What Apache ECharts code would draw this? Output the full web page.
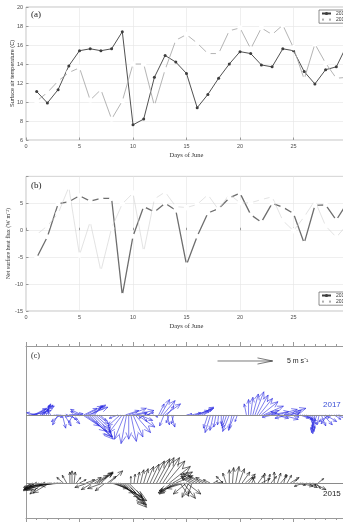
<!DOCTYPE html>
<html>
<head>
<meta charset="utf-8">
<script src="https://cdn.jsdelivr.net/npm/echarts@6/dist/echarts.min.js"></script>
<style>
  html, body { margin: 0; padding: 0; background: #fff; }
  #main { width: 343px; height: 527px; }
</style>
</head>
<body>
<div id="main"></div>
<script>
// days of June
var days = [1, 2, 3, 4, 5, 6, 7, 8, 9, 10, 11, 12, 13, 14, 15, 16, 17, 18, 19, 20, 21, 22, 23, 24, 25, 26, 27, 28, 29, 30];

// (a) surface air temperature (C)
var temp2015 = [11.1, 9.9, 11.3, 13.8, 15.4, 15.6, 15.4, 15.6, 17.4, 7.6, 8.2, 12.6, 14.9, 14.2, 13.0, 9.4, 10.8, 12.5, 14.0, 15.3, 15.1, 13.9, 13.7, 15.6, 15.4, 13.2, 11.9, 13.4, 13.7, 16.0];
var temp2017 = [10.1, 11.0, 12.2, 13.1, 13.6, 10.2, 11.3, 8.2, 10.1, 14.0, 14.0, 9.6, 13.4, 16.5, 17.1, 16.2, 15.1, 15.1, 17.5, 17.8, 15.6, 17.8, 17.1, 18.1, 15.7, 12.4, 16.1, 14.1, 12.5, 12.6];

// (b) net surface heat flux (W m-2)
var flux2015 = [-5.1, -1.2, 4.9, 5.3, 6.4, 5.4, 5.9, 5.9, -12.1, -1.1, 4.4, 3.4, 5.0, 3.7, -6.4, -1.1, 3.2, 4.0, 6.0, 6.9, 2.9, 1.5, 5.0, 4.3, 3.1, -2.4, 4.6, 4.7, 1.9, 5.0];
var flux2017 = [-0.8, 0.8, 3.1, 8.0, -4.6, 1.6, -7.6, 0.4, 4.9, 6.9, -4.0, 5.8, 7.1, 4.4, 4.2, 4.8, 6.6, 3.8, 6.7, 5.1, 5.1, 5.7, 6.2, 1.8, -0.1, 2.5, 5.5, 0.8, -1.3, 1.0];

// (c) wind vectors: [day, u (m/s), v (m/s)]
var wind2017 = [
  [0.3, 1.5, 0.2], [0.5, 1.8, 0.4], [0.7, 1.2, 0.6], [0.9, 0.9, 0.5], [1.1, -1.0, 0.2], [1.3, 1.3, 0.8],
  [1.5, 1.0, 0.9], [1.7, 0.6, 1.0], [1.9, 0.3, 0.9], [2.1, 0.0, 0.8], [2.3, -0.3, 0.5],
  [2.6, 0.8, -0.2], [2.8, 1.2, -0.1], [3.0, -0.5, -0.9], [3.2, -0.8, -0.6], [3.4, 0.3, -1.2], [3.6, 0.6, -1.0],
  [3.8, 1.0, -0.4], [4.0, 1.3, 0.1], [4.2, 0.8, -0.8], [4.4, -0.4, -0.7],
  [5.0, -0.8, 0.3], [5.2, -1.0, 0.5], [5.4, 1.2, 0.6], [5.6, 1.5, 0.8], [5.8, 1.8, 0.7], [6.0, 1.4, 0.9],
  [6.2, 1.0, 0.8], [6.4, 0.6, 0.7],
  [5.3, 1.5, -1.0], [5.5, 2.0, -1.5], [5.7, 2.3, -2.0], [5.9, 2.2, -2.2], [6.1, 1.9, -2.0], [6.3, 1.6, -1.6],
  [6.5, 1.3, -1.2], [6.7, 1.0, -0.8], [6.9, 0.6, -0.5],
  [8.6, -0.8, -0.3], [8.8, -1.1, -1.0], [9.0, -1.2, -1.6], [9.2, -0.9, -2.2], [9.4, -0.5, -2.6], [9.6, 0.0, -2.2],
  [9.8, 0.5, -2.4], [10.0, 0.9, -2.0], [10.2, 1.4, -1.6], [10.4, 1.6, -1.1], [10.6, 1.2, -0.5],
  [9.3, 1.2, 0.4], [9.6, 1.6, 0.6], [9.9, 2.0, 0.4], [10.3, 1.0, 0.2], [10.8, 0.5, -0.6], [11.0, -0.4, -0.3],
  [11.3, 0.6, 0.2], [11.6, -0.5, 0.1], [11.9, 0.4, -0.2],
  [12.4, 0.5, 1.0], [12.6, 0.8, 1.4], [12.8, 1.1, 1.3], [13.0, 1.4, 1.0], [13.2, 0.6, 0.8],
  [12.9, -0.4, -1.0], [13.2, 0.2, -0.9], [13.4, -0.3, -0.7], [13.6, 0.3, -1.1], [13.8, -0.2, -0.8],
  [15.0, 0.5, 0.1], [15.5, 0.8, 0.2], [15.8, 1.2, 0.4], [16.0, 1.5, 0.6], [16.2, 1.3, 0.7], [16.4, 0.9, 0.5], [16.6, 0.5, 0.3],
  [17.0, -0.4, -1.2], [17.25, -0.5, -1.6], [17.5, -0.3, -1.4], [17.75, -0.2, -1.1], [18.0, -0.1, -0.9],
  [18.25, 0.0, -0.8], [18.5, -0.2, -1.0], [18.75, -0.4, -1.2], [19.0, -0.6, -1.5], [19.25, -0.3, -1.4],
  [19.5, -0.5, -1.2], [19.75, -0.2, -0.6],
  [20.6, -0.2, 1.0], [20.8, 0.0, 1.4], [21.0, 0.2, 1.6], [21.2, 0.5, 1.9], [21.4, 0.8, 2.1], [21.6, 1.0, 1.8],
  [21.8, 1.2, 1.5], [22.0, 1.5, 1.2], [22.2, 1.8, 0.8], [22.4, 1.2, 0.4], [22.6, 0.8, 0.2],
  [22.9, 1.6, 0.3], [23.1, -1.0, -0.2], [23.3, 1.2, -0.3], [23.5, 1.8, 0.5], [23.7, -0.8, 0.3], [23.9, 1.5, -0.4],
  [24.1, 2.0, 0.6], [24.3, 1.3, 0.2], [24.5, -1.2, -0.3], [24.7, 1.0, 0.4], [24.9, 0.6, -0.2], [25.1, 0.4, 0.1],
  [25.6, 0.8, -0.3], [25.8, 1.0, -0.4], [26.0, 1.1, -0.5], [26.2, 0.9, -0.8], [26.4, 0.6, -1.2], [26.6, 0.3, -1.5],
  [26.8, 0.0, -1.7], [27.0, -0.3, -1.6], [27.2, -0.5, -1.3], [27.4, -0.2, -0.9], [27.6, 0.4, -1.0], [27.8, 0.8, -0.9],
  [28.0, 1.0, -0.6], [28.2, -0.6, -0.8], [28.4, -1.0, -0.6], [28.6, -0.4, -0.3], [28.8, 0.6, -0.4], [29.0, 1.2, -0.5],
  [29.2, 0.8, -0.2]
];
var wind2015 = [
  [0.6, -0.8, -0.4], [0.9, -1.1, -0.6], [1.2, -1.4, -0.7], [1.5, -1.6, -0.6], [1.8, -1.9, -0.5], [2.1, -2.1, -0.6],
  [2.4, -2.3, -0.4], [2.7, -2.5, -0.5], [3.0, -2.6, -0.3], [3.3, -2.0, -0.2], [2.2, -1.5, -0.9], [1.6, -1.2, -1.0],
  [3.5, -0.6, 0.5], [3.8, -0.4, 0.7], [4.1, 0.0, 1.0], [4.3, 0.0, 1.1], [4.5, 0.1, 1.0], [4.7, 0.4, 0.5], [5.0, 0.6, 0.3],
  [5.6, 0.8, 0.3], [5.8, -1.2, -0.4], [6.0, 1.0, 0.5], [6.2, -1.0, -0.6], [6.4, 1.2, 0.7], [6.6, 1.5, 0.9],
  [6.8, 1.3, 1.0], [7.0, 1.0, 0.9], [7.2, -1.4, -0.5], [7.4, -0.9, -0.7], [7.6, 0.8, 0.6], [7.8, 1.2, 1.1],
  [8.0, 1.5, -0.5], [8.2, 2.0, -0.9], [8.4, 2.4, -1.3], [8.6, 2.6, -1.6], [8.8, 2.4, -2.0], [9.0, 2.2, -2.2],
  [9.2, 1.8, -1.9], [9.4, 1.5, -1.6], [9.6, 1.2, -1.2],
  [9.8, 0.0, 0.6], [10.1, 0.1, 0.8], [10.4, 0.2, 1.0], [10.7, 0.3, 1.2], [11.0, 0.4, 1.3], [11.3, 0.6, 1.5],
  [11.6, 0.8, 1.7], [11.9, 1.0, 2.0], [12.2, 1.2, 2.2], [12.5, 1.3, 2.3], [12.8, 1.5, 2.3], [13.1, 1.7, 2.0],
  [13.4, 1.9, 1.5], [13.7, 1.8, 1.0], [14.0, 1.5, 0.6],
  [13.6, -1.0, -0.8], [13.9, -1.4, -1.0], [14.2, -1.8, -0.9], [14.5, -2.0, -0.7], [14.8, -1.6, -0.5], [15.0, -1.2, -1.0],
  [14.4, 0.8, -1.2], [14.7, 1.1, -1.4], [15.0, 1.3, -1.0], [15.2, -0.6, -1.3], [15.5, -0.3, -1.0],
  [15.4, -0.8, 0.4], [15.7, -1.2, 0.6], [16.0, -1.5, 0.8], [16.3, -1.6, 0.9], [16.6, -1.4, 0.7], [16.9, -1.0, 0.5],
  [17.2, -0.6, 0.3], [17.5, 0.4, 0.2], [17.8, 0.6, 0.1],
  [18.4, -0.6, 0.6], [18.7, -0.3, 0.9], [19.0, 0.0, 1.2], [19.3, 0.1, 1.4], [19.6, 0.3, 1.5], [19.9, 0.5, 1.3],
  [20.2, 0.7, 1.0], [20.5, 0.9, 0.8], [20.8, 0.4, 0.5],
  [21.1, 0.3, 0.6], [21.4, -0.2, 0.5], [21.7, 0.5, 0.7], [22.0, 0.8, 0.4], [22.3, 0.0, 0.9], [22.6, 0.2, 0.8],
  [22.9, 0.5, 0.6], [23.2, 0.0, 1.0], [23.5, 0.3, 0.9], [23.8, 0.6, 0.7], [24.1, 0.2, 0.8], [24.4, 0.4, 0.7],
  [24.7, 0.8, 0.5], [25.0, 0.3, 0.3],
  [25.3, 0.8, -0.2], [25.6, 1.2, -0.3], [25.9, -0.8, -0.3], [26.2, 1.0, -0.4], [26.5, 0.6, -0.2], [26.8, 1.2, -0.6],
  [27.1, 0.4, -0.5], [27.3, 0.5, 0.4]
];
// reference arrow: 5 m/s eastward
var refArrow = [[17.9, 5, 0]];

var SANS = "'Liberation Sans', Arial, sans-serif";
var SERIF = "'Liberation Serif', 'Times New Roman', serif";
var K = 1.03;          // x-units per m/s in panel (c)
var BASE17 = 9.63, BASE15 = 3.27, BASEREF = 14.67;

function pairs(vals) {
  return days.map(function (d, i) { return [d, vals[i]]; });
}

function quiver(base, color, headRatio, headAng) {
  return function (params, api) {
    var t = api.value(0), u = api.value(1), v = api.value(2);
    var p0 = api.coord([t, base]);
    var p1 = api.coord([t + u * K, base + v * K]);
    var dx = p1[0] - p0[0], dy = p1[1] - p0[1];
    var len = Math.sqrt(dx * dx + dy * dy);
    var ang = Math.atan2(dy, dx);
    var h = len * headRatio;
    var h1 = [p1[0] - h * Math.cos(ang - headAng), p1[1] - h * Math.sin(ang - headAng)];
    var h2 = [p1[0] - h * Math.cos(ang + headAng), p1[1] - h * Math.sin(ang + headAng)];
    return {
      type: 'group',
      children: [
        { type: 'line', shape: { x1: p0[0], y1: p0[1], x2: p1[0], y2: p1[1] }, style: { stroke: color, lineWidth: 0.6 } },
        { type: 'polyline', shape: { points: [h1, p1, h2] }, style: { stroke: color, fill: null, lineWidth: 0.6 } }
      ]
    };
  };
}

function baseLine(y) {
  return {
    silent: true, symbol: 'none', animation: false,
    label: { show: false },
    lineStyle: { color: '#8a8a8a', width: 1, type: 'solid' },
    data: [{ yAxis: y }]
  };
}

var tickLabel = { fontSize: 5.5, color: '#4d4d4d', fontFamily: SANS };
var splitGrey = { show: true, lineStyle: { color: '#e4e4e4', width: 0.6 } };

var chart = echarts.init(document.getElementById('main'));
chart.setOption({
  animation: false,
  backgroundColor: '#fff',
  grid: [
    { left: 26, top: 7, width: 321, height: 133, show: true, borderColor: '#b5b5b5', borderWidth: 0.8, outerBoundsMode: 'none', containLabel: false },
    { left: 26, top: 176.4, width: 321, height: 134.6, show: true, borderColor: '#b5b5b5', borderWidth: 0.8, outerBoundsMode: 'none', containLabel: false },
    { left: 26, top: 346, width: 321, height: 172, show: false, outerBoundsMode: 'none', containLabel: false }
  ],
  legend: [
    {
      left: 319, top: 10, orient: 'vertical', itemWidth: 9, itemHeight: 4, itemGap: 1,
      padding: [1, 3, 1, 2], borderColor: '#444', borderWidth: 0.6, backgroundColor: '#fff',
      textStyle: { fontSize: 5, color: '#333', fontFamily: SANS },
      data: ['2015', '2017']
    },
    {
      left: 319, top: 292, orient: 'vertical', itemWidth: 9, itemHeight: 4, itemGap: 1,
      padding: [1, 3, 1, 2], borderColor: '#444', borderWidth: 0.6, backgroundColor: '#fff',
      textStyle: { fontSize: 5, color: '#333', fontFamily: SANS },
      data: ['2015', '2017']
    }
  ],
  xAxis: [
    {
      gridIndex: 0, type: 'value', min: 0, max: 30, interval: 5,
      axisLine: { show: false }, axisTick: { inside: true, length: 2.5, lineStyle: { color: '#999' } },
      axisLabel: Object.assign({ margin: 3 }, tickLabel), splitLine: splitGrey,
      name: 'Days of June', nameLocation: 'middle', nameGap: 12, nameMoveOverlap: false,
      nameTextStyle: { fontSize: 6.5, color: '#333', fontFamily: SERIF }
    },
    {
      gridIndex: 1, type: 'value', min: 0, max: 30, interval: 5,
      axisLine: { show: false }, axisTick: { inside: true, length: 2.5, lineStyle: { color: '#999' } },
      axisLabel: Object.assign({ margin: 3 }, tickLabel), splitLine: splitGrey,
      name: 'Days of June', nameLocation: 'middle', nameGap: 12, nameMoveOverlap: false,
      nameTextStyle: { fontSize: 6.5, color: '#333', fontFamily: SERIF }
    },
    {
      gridIndex: 2, type: 'value', min: 0, max: 30, interval: 5, position: 'bottom',
      axisLine: { show: true, lineStyle: { color: '#9a9a9a', width: 1 } },
      axisTick: { show: true, length: 4, lineStyle: { color: '#9a9a9a' } },
      minorTick: { show: true, splitNumber: 5, length: 2, lineStyle: { color: '#9a9a9a' } },
      axisLabel: { show: false }, splitLine: { show: false }
    },
    {
      gridIndex: 2, type: 'value', min: 0, max: 30, interval: 5, position: 'top',
      axisLine: { show: true, lineStyle: { color: '#9a9a9a', width: 1 } },
      axisTick: { show: true, length: 4, lineStyle: { color: '#9a9a9a' } },
      minorTick: { show: true, splitNumber: 5, length: 2, lineStyle: { color: '#9a9a9a' } },
      axisLabel: { show: false }, splitLine: { show: false }
    }
  ],
  yAxis: [
    {
      gridIndex: 0, type: 'value', min: 6, max: 20, interval: 2,
      axisLine: { show: false }, axisTick: { inside: true, length: 2.5, lineStyle: { color: '#999' } },
      axisLabel: Object.assign({ margin: 3 }, tickLabel), splitLine: splitGrey,
      name: 'Surface air temperature (C)', nameLocation: 'middle', nameGap: 11, nameRotate: 90, nameMoveOverlap: false,
      nameTextStyle: { fontSize: 5.5, color: '#333', fontFamily: SANS }
    },
    {
      gridIndex: 1, type: 'value', min: -15, max: 10, interval: 5,
      axisLine: { show: false }, axisTick: { inside: true, length: 2.5, lineStyle: { color: '#999' } },
      axisLabel: Object.assign({ margin: 3, formatter: function (v) { return v === 10 ? '' : v; } }, tickLabel),
      splitLine: splitGrey,
      name: 'Net surface heat flux (W m\u207B\u00B2)', nameLocation: 'middle', nameGap: 15, nameRotate: 90, nameMoveOverlap: false,
      nameTextStyle: { fontSize: 6, color: '#333', fontFamily: SERIF }
    },
    {
      gridIndex: 2, type: 'value', min: 0, max: 16.07,
      axisLine: { show: true, lineStyle: { color: '#9a9a9a', width: 1 } },
      axisTick: { show: false }, axisLabel: { show: false }, splitLine: { show: false }
    }
  ],
  series: [
    {
      name: '2015', type: 'line', xAxisIndex: 0, yAxisIndex: 0, data: pairs(temp2015),
      symbol: 'circle', symbolSize: 3, lineStyle: { color: '#3d3d3d', width: 0.9 },
      itemStyle: { color: '#3d3d3d' }
    },
    {
      name: '2017', type: 'line', xAxisIndex: 0, yAxisIndex: 0, data: pairs(temp2017),
      symbol: 'emptyCircle', symbolSize: 3.5, lineStyle: { color: '#ababab', width: 0.9 },
      itemStyle: { color: '#fff', borderColor: '#8e8e8e', borderWidth: 0.7 }
    },
    {
      name: '2015', type: 'line', xAxisIndex: 1, yAxisIndex: 1, data: pairs(flux2015),
      symbol: 'emptyCircle', symbolSize: 3, lineStyle: { color: '#6e6e6e', width: 1.3 },
      itemStyle: { color: '#fff', borderColor: '#666', borderWidth: 0.7 }
    },
    {
      name: '2017', type: 'line', xAxisIndex: 1, yAxisIndex: 1, data: pairs(flux2017),
      symbol: 'emptyCircle', symbolSize: 3.5, lineStyle: { color: '#d0d0d0', width: 0.6 },
      itemStyle: { color: '#fff', borderColor: '#6a6a6a', borderWidth: 0.7 }
    },
    {
      name: 'wind2017', type: 'custom', xAxisIndex: 2, yAxisIndex: 2, data: wind2017,
      renderItem: quiver(BASE17, '#2a2ae0', 0.3, 0.4), clip: false, silent: true,
      markLine: baseLine(BASE17), z: 3
    },
    {
      name: 'wind2015', type: 'custom', xAxisIndex: 2, yAxisIndex: 2, data: wind2015,
      renderItem: quiver(BASE15, '#111', 0.3, 0.4), clip: false, silent: true,
      markLine: baseLine(BASE15), z: 3
    },
    {
      name: 'ref', type: 'custom', xAxisIndex: 2, yAxisIndex: 2, data: refArrow,
      renderItem: quiver(BASEREF, '#222', 0.28, 0.2), clip: false, silent: true
    }
  ],
  graphic: [
    { type: 'text', left: 31, top: 10, style: { text: '(a)', font: '9px ' + SERIF, fill: '#222' } },
    { type: 'text', left: 31, top: 181, style: { text: '(b)', font: '9px ' + SERIF, fill: '#222' } },
    { type: 'text', left: 31, top: 352, style: { text: '(c)', font: '8px ' + SERIF, fill: '#222' } },
    { type: 'text', left: 287, top: 358, style: { text: '5 m s\u207B\u00B9', font: '7px ' + SANS, fill: '#222' } },
    { type: 'text', left: 323, top: 401, style: { text: '2017', font: '8px ' + SANS, fill: '#3a4fd6' } },
    { type: 'text', left: 323, top: 490, style: { text: '2015', font: '8px ' + SANS, fill: '#222' } }
  ]
});
</script>
</body>
</html>
